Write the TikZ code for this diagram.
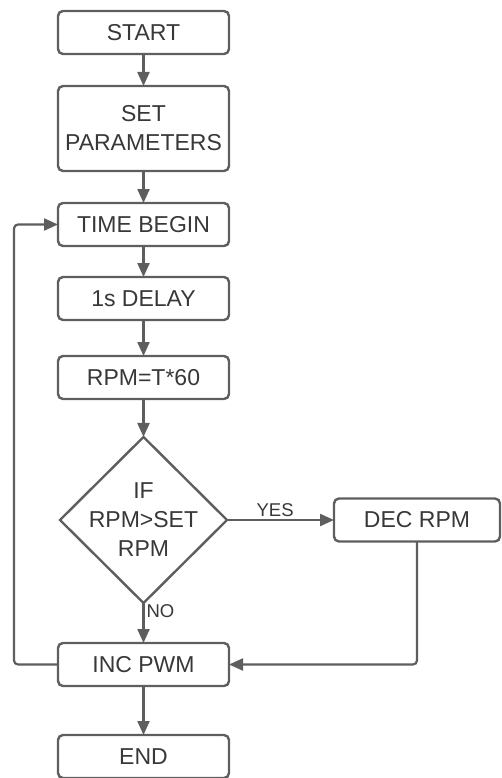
\documentclass[tikz,border=0pt]{standalone}
\usepackage{fontspec}
\setmainfont{Liberation Sans}
\usepackage{tikz}
\usetikzlibrary{shapes.geometric,arrows.meta,positioning}
\definecolor{lineg}{HTML}{5E5E5E}
\definecolor{textg}{HTML}{383838}

\begin{document}
\begin{tikzpicture}[
  x=1pt, y=1pt,
  node distance = 32pt and 107pt,
  every node/.style = {font=\fontsize{23}{29}\selectfont, text=textg},
  block/.style = {rectangle, rounded corners=5pt, draw=lineg, line width=2.4pt,
    minimum width=171pt, minimum height=43pt, align=center, inner sep=2pt,
    outer sep=0pt},
  decision/.style = {diamond, draw=lineg, line width=2.4pt, align=center,
    inner sep=-8pt, minimum width=167pt, minimum height=166pt, outer sep=0pt},
  arr/.style = {-{Triangle[length=14pt,width=12pt]}, draw=lineg, line width=2.2pt},
  lbl/.style = {font=\fontsize{18.5}{20}\selectfont, inner sep=2pt}
]
\useasboundingbox (0,0) rectangle (502,-778);

\node[block] (start) at (143.5,-32.5) {START};
\node[block, minimum height=85pt, below=of start] (setp) {SET\\PARAMETERS};
\node[block, below=of setp]             (time)  {TIME BEGIN};
\node[block, below=31pt of time]        (delay) {1s DELAY};
\node[block, below=36pt of delay]       (rpm)   {RPM=T*60};
\node[decision, below=38pt of rpm]      (cmp)   {IF\\RPM>SET\\RPM};
\node[block, minimum width=166pt, right=of cmp] (dec) {DEC RPM};
\node[block, below=40pt of cmp]         (inc)   {INC PWM};
\node[block, below=49pt of inc]         (stop)  {END};

\draw[arr] (start) -- (setp);
\draw[arr] (setp)  -- (time);
\draw[arr] (time)  -- (delay);
\draw[arr] (delay) -- (rpm);
\draw[arr] (rpm)   -- (cmp);
\draw[arr] (cmp) -- node[lbl,above,pos=0.45]{YES} (dec);
\draw[arr] (cmp) -- node[lbl,right,pos=0.2]{NO} (inc);
\draw[arr] (inc)   -- (stop);
\draw[arr, rounded corners=4pt] (dec.south) |- (inc.east);
\draw[arr, rounded corners=4pt] (inc.west) -- ++(-44,0) |- (time.west);
\end{tikzpicture}
\end{document}
